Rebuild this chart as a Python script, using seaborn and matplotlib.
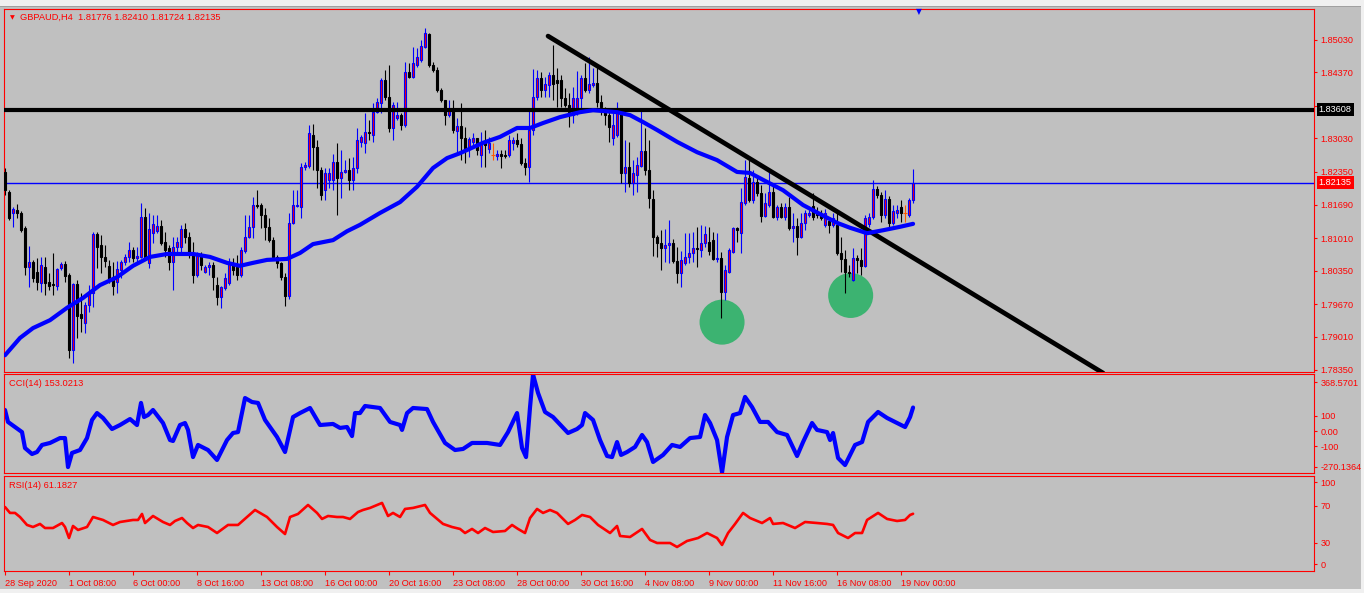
import numpy as np
import matplotlib
matplotlib.use("Agg")
import matplotlib.pyplot as plt
import matplotlib.transforms as mtransforms
from matplotlib.patches import Rectangle
import seaborn as sns

sns.set_style("white")
plt.rcParams['font.family'] = ['Liberation Sans', 'DejaVu Sans']

# ---------------- data ----------------
title_text = "GBPAUD,H4  1.81776 1.82410 1.81724 1.82135"

opens = [1.8235,1.8194,1.8152,1.8158,1.8152,1.8122,1.8043,1.8053,1.8032,1.8010,
 1.8043,1.8012,1.8008,1.8004,1.8041,1.8049,1.8026,1.7875,1.8008,1.7947,
 1.7929,1.7966,1.7990,1.8109,1.8087,1.8063,1.8045,1.8022,1.8012,1.8037,
 1.8053,1.8063,1.8077,1.8061,1.8063,1.8144,1.8051,1.8111,1.8115,1.8126,
 1.8093,1.8081,1.8053,1.8083,1.8083,1.8120,1.8103,1.8067,1.8026,1.8067,
 1.8032,1.8043,1.8047,1.8006,1.7982,1.8000,1.8010,1.8051,1.8043,1.8026,
 1.8075,1.8103,1.8124,1.8168,1.8168,1.8148,1.8124,1.8097,1.8063,1.8051,
 1.8022,1.7984,1.8132,1.8166,1.8164,1.8245,1.8247,1.8310,1.8285,1.8239,
 1.8198,1.8219,1.8219,1.8255,1.8223,1.8235,1.8239,1.8219,1.8243,1.8296,
 1.8294,1.8316,1.8310,1.8356,1.8375,1.8421,1.8387,1.8324,1.8344,1.8350,
 1.8330,1.8437,1.8427,1.8451,1.8461,1.8488,1.8514,1.8451,1.8441,1.8401,
 1.8381,1.8350,1.8360,1.8318,1.8328,1.8304,1.8281,1.8296,1.8304,1.8269,
 1.8294,1.8281,1.8269,1.8267,1.8271,1.8269,1.8269,1.8294,1.8300,1.8292,
 1.8253,1.8245,1.8320,1.8387,1.8425,1.8401,1.8411,1.8431,1.8421,1.8421,
 1.8385,1.8370,1.8350,1.8364,1.8385,1.8425,1.8401,1.8411,1.8415,1.8377,
 1.8360,1.8350,1.8304,1.8310,1.8354,1.8233,1.8245,1.8213,1.8229,1.8247,
 1.8277,1.8239,1.8180,1.8103,1.8091,1.8081,1.8087,1.8091,1.8055,1.8030,
 1.8051,1.8063,1.8071,1.8081,1.8077,1.8091,1.8093,1.8097,1.8059,1.8061,
 1.7992,1.8032,1.8073,1.8122,1.8111,1.8172,1.8223,1.8178,1.8215,1.8192,
 1.8146,1.8168,1.8194,1.8144,1.8164,1.8144,1.8164,1.8122,1.8126,1.8103,
 1.8132,1.8148,1.8166,1.8152,1.8148,1.8128,1.8136,1.8128,1.8128,1.8071,
 1.8059,1.8032,1.8016,1.8061,1.8057,1.8045,1.8130,1.8144,1.8200,1.8188,
 1.8148,1.8180,1.8132,1.8152,1.8164,1.8152,1.8148,1.81776]

closes = [1.8198,1.8142,1.8160,1.8152,1.8117,1.8043,1.8053,1.8020,1.8012,1.8047,
 1.8010,1.8004,1.8006,1.8039,1.8049,1.8024,1.7875,1.8008,1.7943,1.7939,
 1.7966,1.7990,1.8109,1.8083,1.8063,1.8055,1.8018,1.8004,1.8039,1.8053,
 1.8063,1.8077,1.8061,1.8065,1.8144,1.8063,1.8120,1.8130,1.8126,1.8091,
 1.8077,1.8053,1.8083,1.8093,1.8120,1.8103,1.8067,1.8026,1.8067,1.8047,
 1.8043,1.8047,1.8022,1.7982,1.8002,1.8020,1.8051,1.8037,1.8026,1.8077,
 1.8103,1.8124,1.8168,1.8166,1.8148,1.8124,1.8097,1.8063,1.8051,1.8022,
 1.7984,1.8132,1.8168,1.8168,1.8245,1.8249,1.8314,1.8285,1.8239,1.8188,
 1.8233,1.8233,1.8255,1.8223,1.8235,1.8239,1.8219,1.8243,1.8300,1.8306,
 1.8316,1.8314,1.8356,1.8377,1.8421,1.8387,1.8324,1.8370,1.8350,1.8330,
 1.8437,1.8427,1.8455,1.8468,1.8490,1.8516,1.8451,1.8441,1.8401,1.8381,
 1.8350,1.8360,1.8320,1.8328,1.8304,1.8283,1.8302,1.8304,1.8279,1.8294,
 1.8290,1.8294,1.8269,1.8271,1.8267,1.8267,1.8300,1.8300,1.8292,1.8253,
 1.8245,1.8320,1.8387,1.8425,1.8401,1.8413,1.8431,1.8413,1.8415,1.8385,
 1.8370,1.8356,1.8385,1.8385,1.8425,1.8401,1.8413,1.8415,1.8377,1.8367,
 1.8350,1.8326,1.8330,1.8354,1.8233,1.8245,1.8213,1.8233,1.8249,1.8277,
 1.8239,1.8182,1.8103,1.8091,1.8081,1.8087,1.8091,1.8055,1.8030,1.8057,
 1.8063,1.8071,1.8081,1.8079,1.8091,1.8109,1.8075,1.8059,1.8061,1.7992,
 1.8037,1.8077,1.8122,1.8117,1.8174,1.8225,1.8178,1.8215,1.8192,1.8146,
 1.8172,1.8194,1.8144,1.8164,1.8144,1.8164,1.8122,1.8126,1.8103,1.8132,
 1.8152,1.8152,1.8144,1.8148,1.8142,1.8152,1.8128,1.8142,1.8071,1.8059,
 1.8032,1.8030,1.8061,1.8057,1.8045,1.8142,1.8144,1.8200,1.8188,1.8148,
 1.8180,1.8132,1.8156,1.8158,1.8152,1.8152,1.8178,1.82135]

highs = [1.8243,1.8198,1.8164,1.8170,1.8156,1.8126,1.8085,1.8057,1.8061,1.8063,
 1.8063,1.8030,1.8071,1.8041,1.8053,1.8055,1.8030,1.8010,1.8016,1.7990,
 1.7972,1.8006,1.8113,1.8113,1.8107,1.8087,1.8057,1.8053,1.8055,1.8057,
 1.8069,1.8093,1.8083,1.8083,1.8172,1.8162,1.8152,1.8148,1.8148,1.8138,
 1.8113,1.8087,1.8103,1.8103,1.8128,1.8132,1.8113,1.8093,1.8073,1.8073,
 1.8047,1.8053,1.8053,1.8022,1.8004,1.8030,1.8061,1.8061,1.8067,1.8083,
 1.8148,1.8148,1.8184,1.8198,1.8172,1.8162,1.8142,1.8103,1.8067,1.8053,
 1.8030,1.8152,1.8198,1.8198,1.8253,1.8255,1.8330,1.8332,1.8300,1.8245,
 1.8243,1.8243,1.8271,1.8294,1.8279,1.8259,1.8263,1.8265,1.8324,1.8310,
 1.8354,1.8340,1.8375,1.8385,1.8425,1.8441,1.8451,1.8377,1.8377,1.8354,
 1.8458,1.8455,1.8488,1.8486,1.8502,1.8526,1.8516,1.8458,1.8447,1.8405,
 1.8381,1.8381,1.8381,1.8344,1.8375,1.8326,1.8306,1.8314,1.8304,1.8316,
 1.8320,1.8306,1.8294,1.8279,1.8279,1.8279,1.8310,1.8306,1.8314,1.8304,
 1.8263,1.8360,1.8443,1.8441,1.8437,1.8427,1.8437,1.8492,1.8445,1.8431,
 1.8405,1.8395,1.8407,1.8439,1.8431,1.8455,1.8468,1.8445,1.8447,1.8391,
 1.8366,1.8360,1.8354,1.8377,1.8358,1.8300,1.8296,1.8259,1.8265,1.8360,
 1.8324,1.8300,1.8198,1.8107,1.8117,1.8120,1.8138,1.8099,1.8083,1.8075,
 1.8111,1.8111,1.8113,1.8124,1.8128,1.8126,1.8124,1.8113,1.8111,1.8073,
 1.8047,1.8081,1.8124,1.8124,1.8202,1.8259,1.8259,1.8239,1.8229,1.8209,
 1.8192,1.8239,1.8209,1.8168,1.8172,1.8172,1.8184,1.8152,1.8142,1.8152,
 1.8158,1.8158,1.8192,1.8164,1.8158,1.8160,1.8138,1.8152,1.8152,1.8103,
 1.8077,1.8047,1.8081,1.8067,1.8081,1.8148,1.8152,1.8218,1.8206,1.8194,
 1.8198,1.8186,1.8168,1.8168,1.8178,1.8168,1.8182,1.82410]

lows = [1.8188,1.8138,1.8124,1.8142,1.8113,1.8026,1.8002,1.8012,1.7996,1.7992,
 1.7986,1.7996,1.7986,1.7996,1.8037,1.8012,1.7858,1.7848,1.7899,1.7911,
 1.7909,1.7952,1.7962,1.8041,1.8030,1.8043,1.8010,1.7986,1.7990,1.8020,
 1.8047,1.8053,1.8053,1.8053,1.8061,1.8057,1.8041,1.8091,1.8111,1.8087,
 1.8063,1.8037,1.7996,1.8073,1.8073,1.8091,1.8061,1.8010,1.8022,1.8037,
 1.8030,1.8026,1.7996,1.7966,1.7960,1.7996,1.8006,1.8026,1.8016,1.8022,
 1.8071,1.8101,1.8101,1.8162,1.8122,1.8097,1.8093,1.8057,1.8041,1.8016,
 1.7964,1.7978,1.8130,1.8164,1.8142,1.8239,1.8243,1.8239,1.8202,1.8178,
 1.8178,1.8202,1.8198,1.8148,1.8182,1.8233,1.8198,1.8198,1.8233,1.8285,
 1.8273,1.8300,1.8296,1.8354,1.8354,1.8381,1.8316,1.8300,1.8340,1.8320,
 1.8326,1.8425,1.8425,1.8447,1.8458,1.8486,1.8447,1.8437,1.8397,1.8377,
 1.8330,1.8346,1.8314,1.8273,1.8259,1.8253,1.8265,1.8285,1.8269,1.8245,
 1.8245,1.8273,1.8259,1.8259,1.8243,1.8263,1.8265,1.8279,1.8285,1.8249,
 1.8229,1.8215,1.8310,1.8381,1.8387,1.8387,1.8387,1.8381,1.8367,1.8367,
 1.8367,1.8326,1.8334,1.8350,1.8354,1.8397,1.8395,1.8407,1.8367,1.8350,
 1.8330,1.8296,1.8290,1.8306,1.8213,1.8194,1.8205,1.8188,1.8194,1.8245,
 1.8229,1.8162,1.8065,1.8063,1.8037,1.8053,1.8051,1.8051,1.8010,1.8002,
 1.8047,1.8051,1.8053,1.8043,1.8063,1.8083,1.8067,1.8057,1.8053,1.7939,
 1.7976,1.8030,1.8071,1.8093,1.8071,1.8168,1.8174,1.8172,1.8186,1.8134,
 1.8144,1.8164,1.8142,1.8138,1.8142,1.8138,1.8117,1.8093,1.8067,1.8101,
 1.8117,1.8144,1.8138,1.8142,1.8138,1.8124,1.8111,1.8124,1.8067,1.8032,
 1.7990,1.8022,1.8014,1.8030,1.8026,1.8043,1.8124,1.8140,1.8182,1.8134,
 1.8142,1.8124,1.8128,1.8142,1.8134,1.8134,1.8144,1.81724]

ma_idx = [0, 3.75, 7, 11.25, 15.5, 19.5, 23.75, 28, 32, 36.25, 40.5, 47, 51.25, 55.5,
 58.75, 62, 65.5, 70.5, 73.75, 77, 82, 85.5, 88.75, 93.75, 98.75, 103, 107, 110.5,
 113.75, 119.5, 123.75, 128, 131.25, 134.5, 138.75, 143.75, 147, 153, 156.25, 159.5,
 163, 168, 173, 178, 183, 186.25, 189.5, 194.5, 199.5, 203, 208, 211.25, 215.5,
 219.5, 223.75, 227]
ma_price = [1.7864, 1.7899, 1.7919, 1.7935, 1.7960, 1.7980, 1.8006, 1.8022, 1.8045,
 1.8063, 1.8069, 1.8069, 1.8063, 1.8051, 1.8045, 1.8051, 1.8057, 1.8059, 1.8071,
 1.8089, 1.8097, 1.8115, 1.8128, 1.8152, 1.8174, 1.8205, 1.8243, 1.8263, 1.8273,
 1.8294, 1.8306, 1.8324, 1.8324, 1.8334, 1.8346, 1.8356, 1.8360, 1.8356, 1.8350,
 1.8336, 1.8320, 1.8296, 1.8275, 1.8259, 1.8235, 1.8233, 1.8219, 1.8198, 1.8168,
 1.8153, 1.8132, 1.8122, 1.8111, 1.8117, 1.8124, 1.8130]

cci_idx = [0, 0.75, 2.5, 4.25, 5, 6.75, 8, 9.25, 11.25, 13.75,
 15, 15.75, 16.75, 18.75, 20.5, 21.75, 23, 24.5, 26.75, 28.75,
 31.25, 33, 34, 34.75, 35.75, 37, 39.5, 41.25, 42, 43.75,
 45, 45.75, 47, 48.25, 50.75, 53, 55.5, 57, 58.25, 60,
 61.75, 63.25, 65, 68, 70, 72, 73.75, 76.25, 78.75, 82,
 83.75, 85.5, 86.75, 87.5, 88.75, 90, 93.75, 96.25, 98.75, 99.25,
 100.5, 102, 105.5, 107, 110, 112.5, 114.5, 116.75, 120.5, 123.75,
 125.75, 128, 129.25, 130.25, 131.25, 132, 133.25, 135, 137, 140.75,
 143, 144.25, 145, 147, 148.75, 150.5, 151.75, 153, 154, 155.5,
 157.5, 159.25, 160.5, 162, 164.5, 166.75, 168.75, 171.25, 173.75, 175,
 176.25, 178, 179.25, 180.5, 182, 183.75, 185, 186.75, 188.75, 190.75,
 193, 195.5, 198, 199.5, 201.75, 203, 205.5, 206.25, 207, 208.25,
 210, 212.5, 214.25, 215.75, 218.25, 220.5, 223, 225, 226.25, 227]
cci_val = [137, 59, 26, -7, -111, -150, -137, -91, -78, -46,
 -46, -235, -143, -124, -46, 72, 117, 85, 13, 39,
 78, 39, 183, 91, 104, 137, 52, -59, -65, 39,
 52, 7, -170, -91, -124, -189, -59, -13, -7, 215,
 189, 183, 72, -39, -137, 91, 117, 150, 39, 46,
 20, 26, -33, 117, 117, 163, 150, 59, 39, 7,
 117, 150, 143, 59, -78, -124, -117, -78, -78, -91,
 -7, 117, -111, -170, 156, 368.5701, 248, 124, 91, -13,
 13, 39, 117, 72, -59, -163, -170, -72, -156, -137,
 -104, -26, -72, -202, -156, -91, -104, -46, -39, 104,
 52, -59, -270.1364, -39, 104, 117, 222, 156, 59, 59,
 -7, -26, -163, -72, 52, 7, -7, -59, -13, -176,
 -222, -91, -72, 59, 124, 85, 52, 26, 91, 153.0213]

rsi_idx = [0, 1.25, 2.5, 3.75, 5.5, 7, 8.75, 10, 12, 14.25,
 15, 16, 17, 18.25, 20.5, 22, 24.5, 27, 28.75, 32,
 33.25, 34.25, 35, 37, 39.5, 41.25, 42.5, 44.25, 45.5, 47,
 48.25, 50.75, 53, 55.75, 58.25, 60.5, 62.5, 65.5, 68, 70,
 71.25, 73.25, 75.75, 78, 79.25, 80.75, 83, 84.5, 86.25, 88.25,
 89.5, 91.25, 94.25, 95.75, 97, 98.75, 100, 102, 105, 106.25,
 109.5, 111.75, 113.75, 115, 116.75, 118.25, 120, 122, 125, 126.75,
 128.25, 130, 131.25, 133, 134.5, 136.25, 138, 140.75, 142.5, 144.25,
 146.25, 148.25, 151.25, 153, 153.75, 156.25, 159.25, 161.25, 163, 166.25,
 168, 170.5, 173.25, 175.5, 178, 179.25, 180.75, 182.5, 184.5, 186.25,
 189.25, 191.25, 192, 194.5, 197.5, 200, 203, 205.5, 207, 208.25,
 210.75, 212.5, 214.25, 215.5, 218.25, 220.5, 223, 225, 226.25, 227]
rsi_val = [68.5, 62.1, 62.1, 57.7, 49.1, 46.9, 50.2, 45.8, 45.8, 51.2,
 46.9, 35.0, 48.0, 43.7, 46.9, 57.7, 54.5, 49.1, 52.3, 54.5,
 54.5, 61.0, 51.2, 58.8, 52.3, 49.1, 53.4, 56.6, 51.2, 45.8,
 49.1, 46.9, 40.4, 49.1, 49.1, 57.7, 65.3, 57.7, 46.9, 39.3,
 57.7, 61.0, 70.7, 62.1, 55.6, 58.8, 57.7, 57.7, 55.6, 63.1,
 65.3, 67.5, 72.9, 58.8, 62.1, 57.7, 66.4, 67.5, 70.7, 62.1,
 50.2, 46.9, 44.8, 40.4, 44.8, 40.4, 45.8, 41.5, 42.6, 49.1,
 44.8, 40.4, 56.6, 66.4, 62.1, 65.3, 62.1, 50.2, 54.5, 59.9,
 57.7, 49.1, 40.4, 48.0, 37.2, 36.1, 44.8, 32.9, 29.6, 29.6,
 25.3, 31.8, 35.0, 40.4, 35.0, 27.5, 40.4, 50.2, 62.1, 56.6,
 51.2, 56.6, 50.2, 51.2, 45.8, 52.3, 51.2, 50.2, 49.1, 40.4,
 35.0, 40.4, 40.4, 54.5, 62.1, 55.6, 53.4, 54.5, 59.9, 61.1827]

trend_idx = [135.75, 274.5]
trend_price = [1.8510, 1.7828]
level_price = 1.83608
last_close = 1.82135
circle_idx = [179.25, 211.4]
circle_price = [1.7931, 1.7985]

price_ticks = [1.85030, 1.84370, 1.83690, 1.83030, 1.82350, 1.81690, 1.81010,
               1.80350, 1.79670, 1.79010, 1.78350]
cci_tick_pos = [319, 100, 0, -100, -233]
cci_tick_labels = ['368.5701', '100', '0.00', '-100', '-270.1364']
rsi_tick_pos = [95.2, 70, 30, 6.6]
rsi_tick_labels = ['100', '70', '30', '0']
date_tick_idx = [0, 16, 32, 48, 64, 80, 96, 112, 128, 144, 160, 176, 192, 208, 224]
date_labels = ["28 Sep 2020", "1 Oct 08:00", "6 Oct 00:00", "8 Oct 16:00",
               "13 Oct 08:00", "16 Oct 00:00", "20 Oct 16:00", "23 Oct 08:00",
               "28 Oct 00:00", "30 Oct 16:00", "4 Nov 08:00", "9 Nov 00:00",
               "11 Nov 16:00", "16 Nov 08:00", "19 Nov 00:00"]

# ---------------- figure ----------------
W, H = 1364, 593
BG = '#c0c0c0'
RED = '#ff0000'
BLUE = '#0000ff'
FS = 6.6

fig = plt.figure(figsize=(W / 100, H / 100), dpi=100, facecolor=BG)


def rect(l, t, r, b):
    return [l / W, 1 - b / H, (r - l) / W, (b - t) / H]


ax = fig.add_axes(rect(4.3, 9.3, 1314.3, 372.3))
ax_cci = fig.add_axes(rect(4.3, 374.0, 1314.3, 473.0))
ax_rsi = fig.add_axes(rect(4.3, 476.0, 1314.3, 571.0))

# candles
o = np.array(opens); c = np.array(closes); hi = np.array(highs); lo = np.array(lows)
x = np.arange(len(c))
bull = c > o
bear = c < o
doji = c == o
wick_colors = [BLUE if b else ('black' if r else '#ff5a00') for b, r in zip(bull, bear)]

sns.scatterplot(x=circle_idx, y=circle_price, ax=ax, s=1050, color='#3cb371',
                edgecolor='none', linewidth=0, zorder=2, legend=False)
ax.axhline(last_close, color=BLUE, lw=1.0, zorder=1.5)
ax.vlines(x, lo, hi, colors=wick_colors, linewidth=0.8, zorder=3)
ax.bar(x[bull], (c - o)[bull], bottom=o[bull], width=0.5, color=RED,
       edgecolor=BLUE, linewidth=0.8, zorder=4)
ax.bar(x[bear], (o - c)[bear], bottom=c[bear], width=0.5, color='black',
       edgecolor='black', linewidth=0.8, zorder=4)
ax.hlines(c[doji], x[doji] - 0.4, x[doji] + 0.4, colors='#ff5a00', linewidth=0.8, zorder=4)

ax.axhline(level_price, color='black', lw=3.0, zorder=5)
sns.lineplot(x=trend_idx, y=trend_price, ax=ax, color='black', linewidth=3.4,
             zorder=5, estimator=None, sort=False, legend=False)
sns.lineplot(x=ma_idx, y=ma_price, ax=ax, color=BLUE, linewidth=3.0, zorder=6,
             estimator=None, sort=False, legend=False)

sns.lineplot(x=cci_idx, y=cci_val, ax=ax_cci, color=BLUE, linewidth=3.0,
             estimator=None, sort=False, legend=False)
sns.lineplot(x=rsi_idx, y=rsi_val, ax=ax_rsi, color=RED, linewidth=1.9,
             estimator=None, sort=False, legend=False)

for a in (ax, ax_cci, ax_rsi):
    a.set_facecolor(BG)
    for s in a.spines.values():
        s.set_color(RED)
        s.set_linewidth(0.8)
    a.yaxis.tick_right()
    a.tick_params(axis='y', which='both', colors=RED, labelcolor=RED, length=2.5,
                  width=0.8, pad=2.2, labelsize=FS, direction='out', left=False, right=True)
    a.set_xlim(-0.175, 327.3)
    a.grid(False)
    a.set_xlabel('')
    a.set_ylabel('')

ax.set_ylim(1.78295, 1.85642)
ax.set_yticks(price_ticks)
ax.set_yticklabels([f'{v:.5f}' for v in price_ticks])
ax_cci.set_ylim(-273.8, 371.6)
ax_cci.set_yticks(cci_tick_pos)
ax_cci.set_yticklabels(cci_tick_labels)
ax_rsi.set_ylim(-0.65, 102.0)
ax_rsi.set_yticks(rsi_tick_pos)
ax_rsi.set_yticklabels(rsi_tick_labels)

for a in (ax, ax_cci):
    a.set_xticks([])
    a.tick_params(axis='x', bottom=False, labelbottom=False)

ax_rsi.set_xticks(date_tick_idx)
ax_rsi.set_xticklabels(date_labels, ha='left')
ax_rsi.tick_params(axis='x', colors=RED, labelcolor=RED, length=3, width=0.8,
                   pad=2.5, labelsize=FS, direction='out', bottom=True)

# price boxes on the right scale
bt = mtransforms.blended_transform_factory(ax.transAxes, ax.transData)
ax.text(1.0034, level_price, '1.83608', transform=bt, color='white', fontsize=FS,
        va='center', ha='left', clip_on=False, zorder=20,
        bbox=dict(boxstyle='square,pad=0.22', fc='black', ec='none'))
ax.text(1.0034, last_close, '1.82135', transform=bt, color='white', fontsize=FS,
        va='center', ha='left', clip_on=False, zorder=20,
        bbox=dict(boxstyle='square,pad=0.22', fc=RED, ec='none'))

# labels
fig.text(20 / W, 1 - 17.5 / H, title_text, color=RED, fontsize=6.7, va='center', ha='left')
fig.text(12 / W, 1 - 17.5 / H, '\u25bc', color=RED, fontsize=4.5, va='center', ha='center',
         family=['DejaVu Sans'])
fig.text(919 / W, 1 - 11.5 / H, '\u25bc', color=BLUE, fontsize=5.5, va='center', ha='center',
         family=['DejaVu Sans'])
fig.text(9 / W, 1 - 384 / H, 'CCI(14) 153.0213', color=RED, fontsize=6.7, va='center', ha='left')
fig.text(9 / W, 1 - 485 / H, 'RSI(14) 61.1827', color=RED, fontsize=6.7, va='center', ha='left')

# window chrome
fig.add_artist(Rectangle((0, 1 - 5.5 / H), 1, 5.5 / H, transform=fig.transFigure,
                         fc='#f0f0f0', ec='none', zorder=0))
fig.add_artist(Rectangle((0, 1 - 6.5 / H), 1, 1.0 / H, transform=fig.transFigure,
                         fc='#a0a0a0', ec='none', zorder=0))
fig.add_artist(Rectangle((0, 0), 1, 4 / H, transform=fig.transFigure,
                         fc='#f0f0f0', ec='none', zorder=0))
fig.add_artist(Rectangle((1361 / W, 0), 3 / W, 1, transform=fig.transFigure,
                         fc='#f0f0f0', ec='none', zorder=0))

fig.savefig('out.png', dpi=100, facecolor=BG)
